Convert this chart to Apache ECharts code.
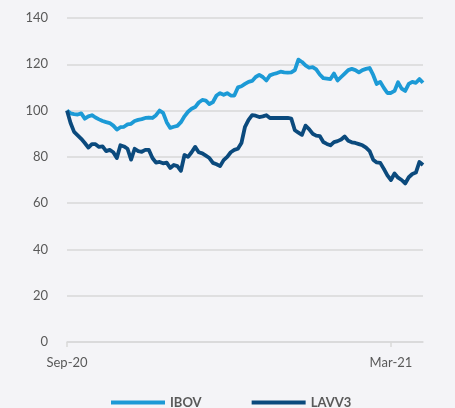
<!DOCTYPE html>
<html>
<head>
<meta charset="utf-8">
<script src="https://cdn.jsdelivr.net/npm/echarts@6/dist/echarts.min.js"></script>
<style>
  html, body { margin: 0; padding: 0; background: #f4f4f7; }
  #chart { width: 455px; height: 408px; }
</style>
</head>
<body>
<div id="chart"></div>
<script>
// index 100 = start of period, one point every ~2 days
const ibov = [
  100, 98.8, 98.5, 98.3, 98.8, 96.5, 97.5, 98, 97, 96.2,
  95.5, 95, 94.6, 93.5, 91.8, 92.8, 93, 94, 94.3, 95.5,
  96, 96.3, 96.8, 97, 96.8, 98, 100, 99, 95, 92.5,
  93, 93.4, 95, 97.5, 99.5, 100.8, 101.5, 103.5, 104.6, 104.3,
  102.8, 103.7, 106.5, 107.5, 106.8, 107.5, 106.5, 106.5, 110, 110.5,
  111.5, 112.4, 112.8, 114.5, 115.4, 114.5, 113, 115.2, 115.8, 116.2,
  116.8, 116.5, 116.4, 116.5, 117.5, 122, 121, 119.5, 118.5, 118.8,
  117.8, 115.6, 114, 113.8, 113.6, 116, 113, 114.5, 116, 117.5,
  118, 117.5, 116.5, 117.5, 118, 118.4, 115.4, 111.5, 112.4, 109.8,
  107.6, 107.6, 108.5, 112.2, 109.5, 108.5, 111.5, 112.4, 112, 113.6,
  112
];
const lavv3 = [
  100, 94.6, 90.8, 89.3, 87.8, 86, 84, 85.5, 85.5, 84.3,
  84.5, 82.5, 83, 82, 79.5, 85, 84.5, 83.5, 78.8, 83.5,
  82.5, 82.2, 83, 83, 79.5, 77.5, 77.8, 77.2, 77.5, 75.2,
  76.5, 76, 74, 80.8, 80, 82, 84.3, 82, 81.5, 80.5,
  79.5, 77.4, 76.8, 76, 78.6, 80, 82, 83, 83.5, 86,
  93, 96, 98, 97.8, 97.2, 97.5, 98, 96.8, 96.8, 96.8,
  96.8, 96.8, 96.8, 96.5, 91.5, 90.5, 89.5, 93.5, 92, 90,
  89.2, 89, 86.4, 85.6, 85, 86.4, 86.8, 87.5, 88.8, 87,
  86.3, 86, 85.5, 85, 84, 82.5, 78.8, 77.6, 77.4, 74.8,
  72, 70, 72.8, 71, 70, 68.5, 71.2, 72.6, 73.2, 77.8,
  76.5
];
const categories = ibov.map((_, i) => i);
const tickIndex = [0, 91];
const tickText = ['Sep-20', 'Mar-21'];

const labelColor = '#595959';
const font = 'Lato, "Open Sans", sans-serif';

let myChart = echarts.init(document.getElementById('chart'));
let option = {
  backgroundColor: '#f4f4f7',
  animation: false,
  grid: {
    left: 67,
    right: 32,
    top: 18,
    bottom: 66
  },
  legend: {
    bottom: -6,
    left: 106,
    itemGap: 50,
    itemWidth: 54,
    itemHeight: 4,
    icon: 'rect',
    textStyle: {
      color: labelColor,
      fontSize: 13,
      fontWeight: 'bold',
      fontFamily: font
    },
    data: ['IBOV', 'LAVV3']
  },
  xAxis: {
    type: 'category',
    data: categories,
    boundaryGap: false,
    axisLine: { lineStyle: { color: '#d9d9d9', width: 1.5 } },
    axisTick: {
      show: true,
      length: 5,
      interval: (i) => tickIndex.indexOf(i) >= 0,
      lineStyle: { color: '#d9d9d9', width: 1.5 }
    },
    axisLabel: {
      interval: (i) => tickIndex.indexOf(i) >= 0,
      formatter: (v, i) => {
        let k = tickIndex.indexOf(Number(v));
        return k >= 0 ? tickText[k] : '';
      },
      color: labelColor,
      fontSize: 13,
      fontFamily: font,
      margin: 14
    },
    splitLine: { show: false }
  },
  yAxis: {
    type: 'value',
    min: 0,
    max: 140,
    interval: 20,
    axisLine: { show: false },
    axisTick: { show: false },
    axisLabel: {
      color: labelColor,
      fontSize: 13,
      fontFamily: font,
      margin: 19
    },
    splitLine: { lineStyle: { color: '#d9d9d9', width: 1.5 } }
  },
  series: [
    {
      name: 'IBOV',
      type: 'line',
      data: ibov,
      showSymbol: false,
      symbol: 'none',
      itemStyle: { color: '#1c9ad6' },
      lineStyle: { color: '#1c9ad6', width: 3.8, join: 'round' }
    },
    {
      name: 'LAVV3',
      type: 'line',
      data: lavv3,
      showSymbol: false,
      symbol: 'none',
      itemStyle: { color: '#0b4a7d' },
      lineStyle: { color: '#0b4a7d', width: 3.8, join: 'round' }
    }
  ]
};

myChart.setOption(option);
</script>
</body>
</html>
